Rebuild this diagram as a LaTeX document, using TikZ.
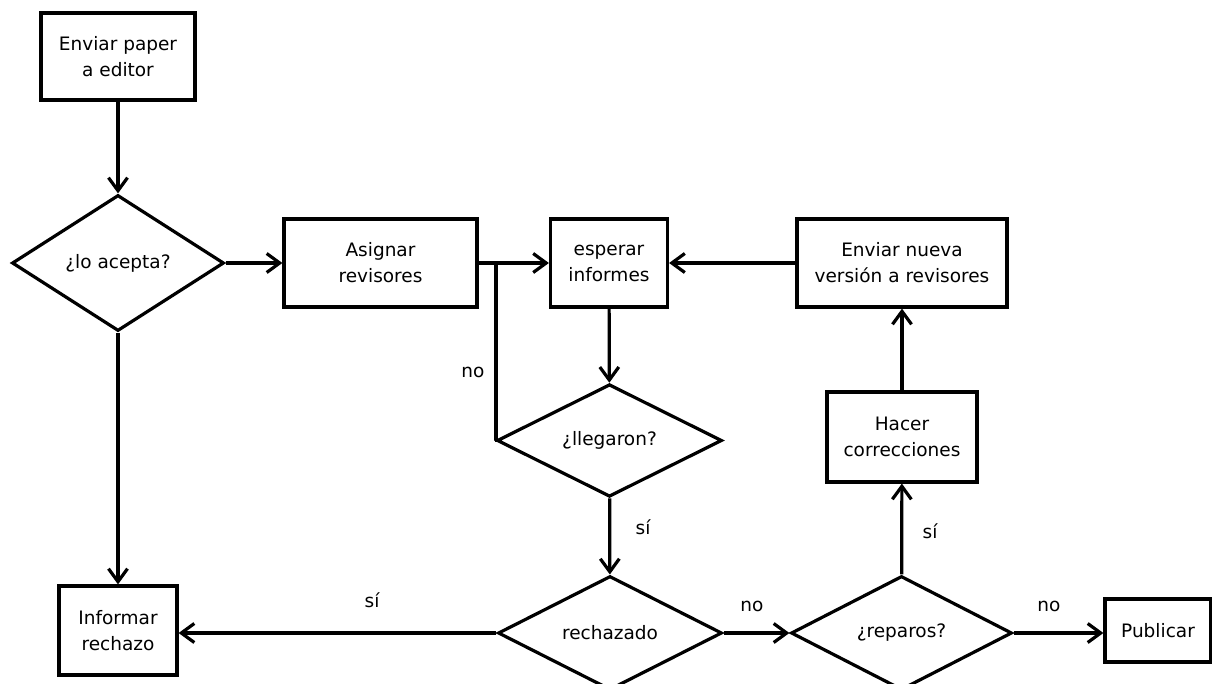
\documentclass[tikz,border=0pt]{standalone}
\usepackage{fontspec}
\setmainfont{DejaVu Sans}
\usetikzlibrary{shapes.geometric,arrows.meta}
\begin{document}
\begin{tikzpicture}[x=1pt,y=-1pt,
  font=\fontsize{18.5}{26}\selectfont,
  box/.style={draw, line width=3.2pt, rectangle, inner sep=0pt, align=center},
  decision/.style={draw, line width=3.2pt, diamond, inner sep=0pt, aspect=1},
  flow/.style={line width=3.2pt, -{Straight Barb[length=13pt,width=19pt,line width=3.2pt]}},
  plain/.style={line width=3.2pt},
  lbl/.style={inner sep=0pt}]
\useasboundingbox (0,0) rectangle (1212,684);
\clip (0,0) rectangle (1212,684);

% process boxes
\node[box, minimum width=154pt, minimum height=87pt] (enviar) at (118,56.5) {Enviar paper\\a editor};
\node[box, minimum width=193pt, minimum height=88pt] (asignar) at (380.5,263) {Asignar\\revisores};
\node[box, minimum width=117pt, minimum height=88pt] (esperar) at (609,263) {esperar\\informes};
\node[box, minimum width=210pt, minimum height=88pt] (nueva) at (902,263) {Enviar nueva\\versión a revisores};
\node[box, minimum width=150pt, minimum height=90pt] (hacer) at (902,437) {Hacer\\correcciones};
\node[box, minimum width=118pt, minimum height=89pt] (informar) at (118,630.5) {Informar\\rechazo};
\node[box, minimum width=106pt, minimum height=63pt] (publicar) at (1158,630.5) {Publicar};

% decisions
\node[decision, minimum width=212pt, minimum height=136pt] (acepta) at (118,263) {¿lo acepta?};
\node[decision, minimum width=225pt, minimum height=111pt] (lleg) at (609.5,440.5) {¿llegaron?};
\node[decision, minimum width=224pt, minimum height=114pt] (rech) at (610,633) {rechazado};
\node[decision, minimum width=221pt, minimum height=114pt] (reparos) at (901.5,633) {¿reparos?};

% connectors
\coordinate (junc) at (496,263);
\draw[flow] (enviar) -- (acepta);
\draw[flow] (acepta.east) -- (asignar.west);
\draw[flow] (asignar.east) -- (esperar.west);
\draw[flow] (esperar) -- (lleg);
\draw[plain] (lleg.west) -| (junc);
\draw[flow] (lleg) -- (rech);
\draw[flow] (acepta) -- (informar);
\draw[flow] (rech.west) -- (rech.west -| informar.east);
\draw[flow] (rech.east) -- (reparos.west);
\draw[flow] (reparos.east) -- (reparos.east -| publicar.west);
\draw[flow] (reparos) -- (hacer);
\draw[flow] (hacer) -- (nueva);
\draw[flow] (nueva.west) -- (esperar.east);

% branch labels
\node[lbl] (l1) at (473,372) {no};
\node[lbl] (l2) at (643,527) {sí};
\node[lbl] (l3) at (372,600) {sí};
\node[lbl] (l4) at (752,606) {no};
\node[lbl] (l5) at (1049,606) {no};
\node[lbl] (l6) at (930,531) {sí};
\end{tikzpicture}
\end{document}
